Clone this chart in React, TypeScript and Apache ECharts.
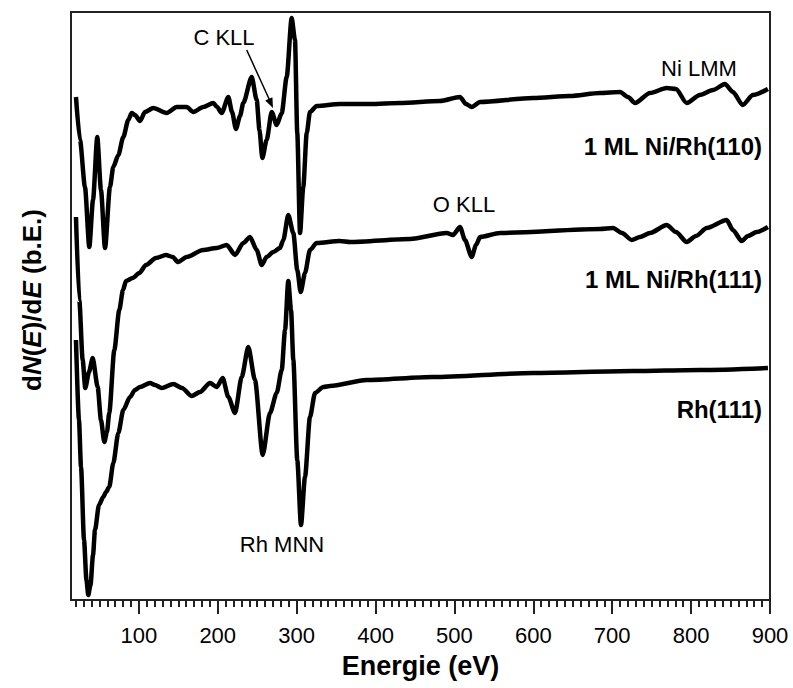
import React, { useEffect, useRef } from "react";
import * as echarts from "echarts";

// Energy (eV) and dN/dE (arbitrary units)
const energyTop = [20.3, 25.4, 31.7, 37.2, 41.9, 47.3, 52.0, 57.1, 63.4, 67.6, 74.0, 80.3, 86.6, 90.9, 95.1, 101.5, 107.8, 118.3, 135.3, 148.0, 160.6, 169.0, 181.7, 194.4, 199.1, 205.0, 213.4, 218.1, 223.1, 228.2, 232.4, 243.0, 249.4, 252.9, 256.5, 262.0, 268.4, 274.7, 281.1, 287.4, 293.7, 297.9, 300.8, 304.3, 308.4, 312.8, 316.9, 325.4, 354.7, 393.0, 431.0, 481.7, 507.1, 514.7, 521.9, 532.5, 599.6, 646.5, 684.5, 709.9, 720.0, 728.9, 747.9, 769.1, 780.8, 794.4, 811.1, 827.7, 842.9, 853.0, 865.4, 878.4, 897.4];
const intensityTop = [503, 460, 413, 353, 400, 463, 410, 352, 413, 433, 445, 463, 480, 487, 485, 479, 488, 492, 487, 493, 493, 488, 493, 497, 493, 487, 503, 488, 471, 484, 497, 523, 500, 470, 442, 460, 488, 475, 487, 523, 582, 560, 467, 367, 413, 467, 488, 494, 496, 496, 497, 499, 503, 496, 493, 498, 502, 504, 507, 508, 503, 497, 507, 512, 511, 497, 505, 510, 516, 508, 495, 505, 511];

const energyMid = [20.3, 24.5, 28.8, 32.1, 36.8, 41.5, 47.8, 52.0, 56.2, 59.6, 62.5, 68.9, 75.2, 79.9, 83.7, 92.2, 100.6, 109.1, 121.7, 134.4, 142.9, 149.6, 160.6, 181.3, 198.7, 211.4, 221.9, 232.4, 240.9, 249.4, 255.7, 262.0, 270.4, 278.9, 283.1, 289.4, 295.8, 300.8, 305.1, 310.6, 316.9, 325.4, 354.7, 367.6, 443.7, 490.2, 498.2, 507.1, 513.4, 521.9, 527.4, 532.5, 557.8, 684.5, 701.0, 712.4, 724.7, 735.2, 747.9, 769.1, 780.8, 794.4, 806.2, 819.8, 845.1, 853.0, 864.1, 872.1, 883.1, 897.4];
const intensityMid = [383, 300, 240, 212, 228, 242, 213, 180, 158, 168, 187, 250, 290, 310, 319, 322, 327, 335, 342, 345, 343, 338, 343, 350, 352, 355, 345, 357, 363, 350, 335, 343, 348, 352, 360, 385, 367, 330, 308, 327, 350, 357, 359, 358, 361, 367, 365, 373, 360, 343, 355, 363, 367, 371, 372, 367, 360, 363, 367, 375, 368, 358, 364, 372, 380, 370, 359, 364, 368, 373];

const energyBot = [20.3, 24.1, 26.7, 30.5, 33.6, 35.9, 38.7, 41.9, 44.4, 49.5, 54.9, 58.4, 62.5, 67.6, 74.0, 80.3, 88.8, 95.1, 101.5, 114.1, 120.5, 129.0, 143.7, 154.7, 167.0, 177.5, 190.2, 198.7, 206.3, 213.4, 221.9, 230.4, 238.7, 247.2, 257.0, 266.2, 274.7, 281.1, 285.3, 289.4, 292.9, 295.8, 300.8, 305.5, 310.6, 316.9, 323.3, 333.8, 342.3, 388.8, 472.8, 599.6, 726.3, 811.3, 897.4];
const intensityBot = [260, 180, 133, 60, 20, 5, 15, 45, 70, 95, 103, 108, 113, 137, 167, 190, 203, 210, 213, 217, 215, 212, 216, 212, 204, 208, 217, 213, 222, 203, 187, 223, 253, 220, 145, 187, 207, 230, 270, 319, 290, 240, 140, 75, 123, 183, 207, 213, 214, 220, 223, 227, 229, 230, 232];

const xTickValues = [100, 200, 300, 400, 500, 600, 700, 800, 900];
const xMinorValues = Array.from({ length: 89 }, (_, i) => 20 + i * 10);

const seriesNames = ["1 ML Ni/Rh(110)", "1 ML Ni/Rh(111)", "Rh(111)"];
const peakLabels = ["C KLL", "Ni LMM", "O KLL", "Rh MNN"];

const FONT = "'Liberation Sans', Arial, Helvetica, sans-serif";

function zip(xs: number[], ys: number[]) {
  return xs.map((x, i) => [x, ys[i]]);
}

export default function App() {
  const ref = useRef<HTMLDivElement>(null);
  useEffect(() => {
    document.body.style.margin = "0";
    const chart = echarts.init(ref.current!, null, { renderer: "svg" });
    const lineSeries = (name: string, xs: number[], ys: number[]) => ({
      name,
      type: "line",
      data: zip(xs, ys),
      showSymbol: false,
      smooth: 0.25,
      smoothMonotone: "x",
      lineStyle: { color: "#000", width: 4.5 },
      itemStyle: { color: "#000" },
      xAxisIndex: 0,
      yAxisIndex: 0,
    });
    const labelStyle = { fontFamily: FONT, fontSize: 22, fill: "#000" };
    const boldStyle = { fontFamily: FONT, fontSize: 24, fontWeight: "bold", fill: "#000" };
    chart.setOption({
      animation: false,
      backgroundColor: "#fff",
      grid: {
        left: 71,
        top: 12,
        width: 699,
        height: 588,
        show: true,
        borderColor: "#222",
        borderWidth: 2,
        backgroundColor: "transparent",
      },
      xAxis: [
        {
          type: "value",
          min: 14,
          max: 900,
          position: "bottom",
          name: "Energie (eV)",
          nameLocation: "middle",
          nameGap: 52,
          nameTextStyle: { fontFamily: FONT, fontSize: 27, fontWeight: "bold", color: "#000", verticalAlign: "top" },
          axisLine: { show: true, lineStyle: { color: "#222", width: 2 } },
          axisTick: { show: true, customValues: xTickValues, length: 14, lineStyle: { color: "#222", width: 2 } },
          axisLabel: { show: true, customValues: xTickValues, fontFamily: FONT, fontSize: 22, color: "#000", margin: 24 },
          splitLine: { show: false },
        },
        {
          type: "value",
          min: 14,
          max: 900,
          position: "bottom",
          axisLine: { show: false },
          axisTick: { show: true, customValues: xMinorValues, length: 7, lineStyle: { color: "#222", width: 2 } },
          axisLabel: { show: false },
          splitLine: { show: false },
        },
      ],
      yAxis: {
        type: "value",
        min: 0,
        max: 588,
        axisLine: { show: false },
        axisTick: { show: false },
        axisLabel: { show: false },
        splitLine: { show: false },
      },
      series: [
        lineSeries(seriesNames[0], energyTop, intensityTop),
        lineSeries(seriesNames[1], energyMid, intensityMid),
        lineSeries(seriesNames[2], energyBot, intensityBot),
      ],
      graphic: [
        {
          type: "text",
          x: 32,
          y: 300,
          rotation: Math.PI / 2,
          style: {
            text: "{b|d}{bi|N}{b|(}{bi|E}{b|)/d}{bi|E}{b| (b.E.)}",
            align: "center",
            verticalAlign: "middle",
            rich: {
              b: { fontFamily: FONT, fontSize: 26, fontWeight: "bold", fill: "#000" },
              bi: { fontFamily: FONT, fontSize: 26, fontWeight: "bold", fontStyle: "italic", fill: "#000" },
            },
          },
        },
        { type: "text", x: 224, y: 37, style: { ...labelStyle, text: peakLabels[0], align: "center", verticalAlign: "middle" } },
        { type: "text", x: 699, y: 68, style: { ...labelStyle, text: peakLabels[1], align: "center", verticalAlign: "middle" } },
        { type: "text", x: 464, y: 204, style: { ...labelStyle, text: peakLabels[2], align: "center", verticalAlign: "middle" } },
        { type: "text", x: 282, y: 544, style: { ...labelStyle, text: peakLabels[3], align: "center", verticalAlign: "middle" } },
        { type: "text", x: 762, y: 146, style: { ...boldStyle, text: seriesNames[0], align: "right", verticalAlign: "middle" } },
        { type: "text", x: 762, y: 279, style: { ...boldStyle, text: seriesNames[1], align: "right", verticalAlign: "middle" } },
        { type: "text", x: 762, y: 409, style: { ...boldStyle, text: seriesNames[2], align: "right", verticalAlign: "middle" } },
        {
          type: "line",
          shape: { x1: 246.7, y1: 50, x2: 270, y2: 101 },
          style: { stroke: "#000", lineWidth: 1.5 },
        },
        {
          type: "polygon",
          shape: { points: [[273, 108], [265.2, 100.6], [272.4, 97.2]] },
          style: { fill: "#000" },
        },
      ],
    });
    return () => chart.dispose();
  }, []);
  return <div ref={ref} style={{ width: 793, height: 688, position: "absolute", left: 0, top: 0 }} />;
}
